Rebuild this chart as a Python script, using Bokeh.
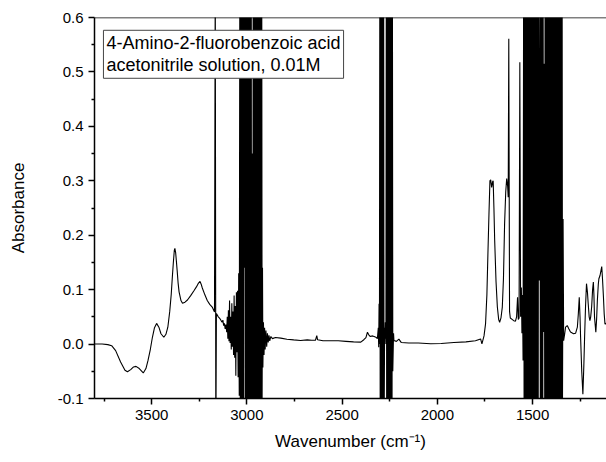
from bokeh.plotting import figure
from bokeh.models import Range1d, FixedTicker, PrintfTickFormatter, Label, Span
from bokeh.embed import file_html
from bokeh.resources import INLINE

# ---------------- data ----------------
x_ticks = [3500, 3000, 2500, 2000, 1500]
x_minor = [3750, 3250, 2750, 2250, 1750, 1250]
y_ticks = [-0.1, 0.0, 0.1, 0.2, 0.3, 0.4, 0.5, 0.6]
y_minor = [-0.05, 0.05, 0.15, 0.25, 0.35, 0.45, 0.55]

# NH / OH region (3800 - 3170 cm-1)
wn_nh = [3800, 3760, 3730, 3710, 3689, 3663, 3640, 3627, 3610, 3595, 3582, 3565, 3544, 3530,
         3519, 3507, 3496, 3485, 3474, 3462, 3451, 3436, 3425, 3415, 3405, 3397, 3391, 3386,
         3381, 3378, 3374, 3370, 3366, 3361, 3356, 3346, 3338, 3325, 3312, 3295, 3278, 3265,
         3256, 3246, 3240, 3234, 3220, 3208, 3195, 3182, 3170]
ab_nh = [0.000, 0.000, -0.001, -0.003, -0.012, -0.033, -0.048, -0.051, -0.047, -0.042, -0.041,
         -0.045, -0.053, -0.045, -0.030, -0.010, 0.0125, 0.030, 0.038, 0.031, 0.019, 0.0125,
         0.018, 0.031, 0.060, 0.092, 0.125, 0.150, 0.172, 0.176, 0.168, 0.152, 0.135, 0.112,
         0.096, 0.080, 0.075, 0.077, 0.081, 0.089, 0.098, 0.105, 0.111, 0.115, 0.110, 0.103,
         0.090, 0.080, 0.073, 0.068, 0.059]

# spike + noisy CH region (3166 - 3040 cm-1)
wn_ch = [3166, 3163, 3160, 3150, 3145, 3140, 3135, 3130, 3126, 3122, 3118, 3114, 3110, 3106,
         3103, 3100, 3097, 3094, 3091, 3088, 3085, 3082, 3079, 3076, 3073, 3070, 3067, 3064,
         3061, 3058, 3055, 3052, 3049, 3046, 3043, 3040]
ab_ch = [0.70, -0.20, 0.056, 0.050, 0.048, 0.046, 0.043, 0.040, 0.044, 0.034, 0.038, 0.028,
         0.036, 0.022, 0.050, 0.010, 0.062, 0.005, 0.080, 0.002, 0.050, -0.010, 0.075, -0.005,
         0.060, -0.020, 0.089, -0.025, 0.070, -0.058, 0.095, -0.015, 0.098, -0.061, 0.13, -0.095]

# saturated solvent band (3037 - 2920 cm-1)
wn_sat1 = [3037, 3034.5, 3032, 3029.5, 3027, 3024.5, 3022, 3019.5, 3018, 3016.5, 3015, 3012,
           3009, 3007.5, 3005, 3002.5, 3000, 2997.5, 2995, 2992.5, 2990, 2987.5, 2985, 2982.5,
           2980, 2978.5, 2977, 2975.5, 2972, 2968.5, 2967, 2964.5, 2962, 2959.5, 2957, 2954.5,
           2952, 2949.5, 2947, 2944.5, 2942, 2939.5, 2937, 2934.5, 2932, 2929.5, 2927, 2924.5,
           2922, 2920]
ab_sat1 = [0.70, -0.20, 0.70, -0.20, 0.70, -0.20, 0.70, -0.20, 0.70, -0.20, 0.70, 0.14,
           0.70, -0.20, 0.70, -0.20, 0.70, -0.20, 0.70, -0.20, 0.70, -0.20, 0.70, -0.20,
           0.70, -0.20, 0.70, -0.20, 0.35, -0.20, 0.70, -0.20, 0.70, -0.20, 0.70, -0.20,
           0.70, -0.20, 0.70, -0.20, 0.70, -0.20, 0.70, -0.20, 0.70, -0.20, 0.70, -0.20,
           0.70, -0.10]

# baseline 2918 - 2304 cm-1
wn_base1 = [2918, 2916, 2913, 2910, 2907, 2904, 2900, 2896, 2892, 2888, 2884, 2880, 2874, 2866,
            2850, 2822, 2790, 2754, 2718, 2683, 2660, 2640, 2633, 2629, 2600, 2560, 2520, 2480,
            2440, 2402, 2386, 2375, 2367, 2360, 2353, 2340, 2332, 2320, 2315, 2310, 2308, 2306,
            2304]
ab_base1 = [0.14, -0.043, 0.04, -0.02, 0.03, -0.01, 0.025, -0.005, 0.02, 0.003, 0.016, 0.006,
            0.014, 0.010, 0.012, 0.011, 0.009, 0.0077, 0.0065, 0.0077, 0.007, 0.007, 0.0156,
            0.008, 0.006, 0.006, 0.006, 0.005, 0.004, 0.0035, 0.008, 0.012, 0.0217, 0.017, 0.014,
            0.015, 0.0138, 0.012, 0.010, 0.030, -0.006, 0.074, 0.0]

# saturated nitrile bands (2302 - 2234 cm-1)
wn_sat2 = [2302, 2300, 2298, 2296, 2294, 2292, 2290, 2288, 2286, 2284, 2282, 2280, 2277, 2275,
           2273, 2270, 2268, 2266, 2264, 2262, 2260, 2258, 2256, 2254, 2252, 2250, 2248, 2246,
           2244, 2242, 2240, 2238, 2236, 2234]
ab_sat2 = [0.70, -0.20, 0.70, -0.20, 0.70, -0.20, 0.70, -0.20, 0.70, -0.20, 0.70, -0.20, 0.03,
           0.01, 0.04, 0.0, 0.70, -0.20, 0.70, -0.20, 0.70, -0.20, 0.70, -0.20, 0.70, -0.20,
           0.70, -0.20, 0.70, -0.20, 0.70, -0.20, 0.70, -0.05]

# baseline + carbonyl / ring bands (2230 - 1550 cm-1)
wn_co = [2230, 2228, 2215, 2202, 2190, 2150, 2100, 2035, 1980, 1913, 1850, 1800, 1773, 1766,
         1755, 1747, 1740, 1735, 1729, 1724, 1720, 1715, 1710, 1707, 1703, 1699, 1692, 1685,
         1678, 1673, 1666, 1659, 1653, 1647, 1641, 1636, 1631, 1628, 1625, 1621, 1617, 1606,
         1599, 1590, 1584, 1579, 1575, 1571, 1567, 1563, 1559, 1556, 1553, 1550]
ab_co = [0.02, 0.0064, 0.005, 0.009, 0.003, 0.002, 0.002, 0.0005, 0.001, 0.003, 0.004, 0.006,
         0.0095, 0.0004, 0.015, 0.037, 0.090, 0.16, 0.24, 0.30, 0.302, 0.288, 0.298, 0.30, 0.25,
         0.19, 0.115, 0.068, 0.045, 0.040, 0.048, 0.068, 0.12, 0.221, 0.28, 0.304, 0.29, 0.27,
         0.561, 0.06, 0.048, 0.045, 0.043, 0.042, 0.05, 0.086, 0.045, 0.048, 0.518, 0.05, 0.104,
         0.02, 0.09, -0.03]

# saturated solvent band (1547 - 1343 cm-1)
wn_sat3 = [1547, 1544.5, 1542, 1539.5, 1537, 1534.5, 1532, 1529.5, 1527, 1524.5, 1522, 1519.5,
           1517, 1514.5, 1512, 1509.5, 1507, 1504.5, 1502, 1499.5, 1497, 1494.5, 1492, 1489.5,
           1487, 1484.5, 1482, 1479.5, 1477, 1474.5, 1472, 1470.5, 1469, 1465, 1461, 1459.5,
           1458, 1455.5, 1453, 1450.5, 1448, 1446.5, 1445, 1442, 1439, 1436, 1434.5, 1432,
           1429.5, 1427, 1424.5, 1422, 1419.5, 1417, 1414.5, 1412, 1409.5, 1407, 1404.5, 1402,
           1399.5, 1397, 1394.5, 1392, 1389.5, 1387, 1384.5, 1382, 1379.5, 1377, 1374.5, 1372,
           1369.5, 1367, 1364.5, 1362, 1359.5, 1357, 1354.5, 1352, 1349.5, 1347, 1345, 1343]
ab_sat3 = [0.70, -0.20, 0.70, -0.20, 0.70, -0.20, 0.70, -0.20, 0.70, -0.20, 0.70, -0.20,
           0.70, -0.20, 0.70, -0.20, 0.70, -0.20, 0.70, -0.20, 0.70, -0.20, 0.70, -0.20,
           0.70, -0.20, 0.70, -0.20, 0.70, -0.20, 0.70, -0.20, 0.70, 0.117, 0.70, -0.20,
           0.70, -0.20, 0.70, -0.20, 0.70, -0.20, 0.70, 0.022, 0.515, -0.20, 0.70, -0.20,
           0.70, -0.20, 0.70, -0.20, 0.70, -0.20, 0.70, -0.20, 0.70, -0.20, 0.70, -0.20,
           0.70, -0.20, 0.70, -0.20, 0.70, -0.20, 0.70, -0.20, 0.70, -0.20, 0.70, -0.20,
           0.70, -0.20, 0.70, -0.20, 0.70, -0.20, 0.70, -0.20, 0.70, -0.20, 0.70, -0.10]

# fingerprint region (1340 - 1105 cm-1)
wn_fp = [1340, 1337, 1331, 1327, 1318, 1310, 1301, 1285, 1274, 1265, 1260, 1255, 1251, 1248,
         1242, 1236, 1231, 1227, 1222, 1217, 1212, 1208, 1203, 1199, 1195, 1190, 1185, 1181,
         1178, 1175, 1168, 1164, 1160, 1155, 1152, 1146, 1141, 1137, 1133, 1128, 1124, 1120,
         1116, 1112, 1105]
ab_fp = [0.23, 0.0064, 0.02, 0.031, 0.034, 0.028, 0.022, 0.019, 0.020, 0.031, 0.055, 0.086,
         0.05, 0.0125, -0.05, -0.092, -0.04, 0.0125, 0.07, 0.111, 0.095, 0.074, 0.05, 0.043,
         0.05, 0.068, 0.10, 0.114, 0.09, 0.05, 0.022, 0.045, 0.080, 0.11, 0.12, 0.126, 0.135,
         0.1425, 0.12, 0.086, 0.055, 0.037, 0.037, 0.039, 0.04]

wavenumber = wn_nh + wn_ch + wn_sat1 + wn_base1 + wn_sat2 + wn_co + wn_sat3 + wn_fp
absorbance = ab_nh + ab_ch + ab_sat1 + ab_base1 + ab_sat2 + ab_co + ab_sat3 + ab_fp

legend_lines = ["4-Amino-2-fluorobenzoic acid", "acetonitrile solution, 0.01M"]

# ---------------- figure ----------------
FONT = "Liberation Sans"

p = figure(width=606, height=462,
           x_range=Range1d(3800, 1112), y_range=Range1d(-0.1, 0.6),
           output_backend="svg", toolbar_location=None,
           min_border_left=94, min_border_right=0, min_border_top=17, min_border_bottom=64)
p.outline_line_color = None
p.xgrid.visible = False
p.ygrid.visible = False
p.background_fill_color = "white"
p.border_fill_color = "white"

p.line(wavenumber, absorbance, line_color="black", line_width=1.1)

for ax in (p.xaxis[0], p.yaxis[0]):
    ax.axis_line_color = "black"
    ax.axis_line_width = 1.5
    ax.major_tick_line_color = "black"
    ax.minor_tick_line_color = "black"
    ax.major_tick_line_width = 1.5
    ax.minor_tick_line_width = 1.5
    ax.major_tick_out = 6
    ax.major_tick_in = 0
    ax.minor_tick_out = 3
    ax.minor_tick_in = 0
    ax.major_label_text_font = FONT
    ax.major_label_text_font_size = "15px"
    ax.major_label_text_color = "black"
    ax.axis_label_text_font = FONT
    ax.axis_label_text_font_size = "17px"
    ax.axis_label_text_font_style = "normal"
    ax.axis_label_text_color = "black"
    ax.major_label_standoff = 5

p.xaxis.ticker = FixedTicker(ticks=x_ticks, minor_ticks=x_minor)
p.yaxis.ticker = FixedTicker(ticks=y_ticks, minor_ticks=y_minor)
p.yaxis.formatter = PrintfTickFormatter(format="%.1f")
p.xaxis.axis_label = "Wavenumber (cm\u207b\u00b9)"
p.yaxis.axis_label = "Absorbance"
p.xaxis.axis_label_standoff = 9
p.yaxis.axis_label_standoff = 27

p.add_layout(Span(location=0.6, dimension="width", line_color="black", line_width=1.5))

p.add_layout(Label(x=3753, y=0.5765, text="\n".join(legend_lines), anchor="top_left",
                   text_font=FONT, text_font_size="18px", text_color="black",
                   border_line_color="#444444", border_line_width=1,
                   background_fill_color="white", padding=3, text_line_height=1.1))

open("out.html", "w").write(file_html(p, INLINE))
